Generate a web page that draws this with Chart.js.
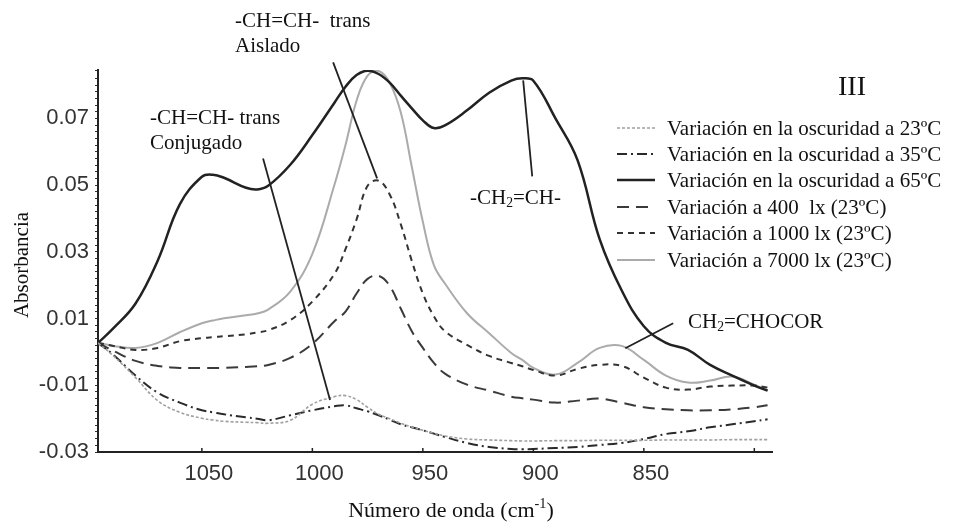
<!DOCTYPE html>
<html>
<head>
<meta charset="utf-8">
<script src="https://cdn.jsdelivr.net/npm/chart.js@4.4.1/dist/chart.umd.min.js"></script>
<style>
  html, body { margin: 0; padding: 0; background: #fff; }
  #wrap { width: 960px; height: 522px; }
</style>
</head>
<body>
<div id="wrap"><canvas id="chart" width="960" height="522"></canvas></div>
<script>
// Wavenumbers (cm-1), left to right
const waveNumbers = [1097, 1090, 1080, 1070, 1060, 1050, 1045, 1040, 1030, 1025,
                     1020, 1010, 1000, 990, 985, 980, 975, 970, 965, 960,
                     955, 950, 945, 940, 930, 920, 910, 905, 900, 890,
                     880, 870, 860, 850, 840, 830, 820, 810, 800, 794];

// Absorbance of each series at those wavenumbers
const dark23 = [0.0027, -0.0012, -0.0077, -0.0146, -0.0181, -0.0199, -0.0204, -0.0208, -0.0211, -0.0212,
                -0.0214, -0.0205, -0.0157, -0.0134, -0.0131, -0.0143, -0.0166, -0.0187, -0.0200, -0.0214,
                -0.0225, -0.0235, -0.0244, -0.0252, -0.0261, -0.0264, -0.0266, -0.0267, -0.0267, -0.0266,
                -0.0266, -0.0265, -0.0265, -0.0265, -0.0264, -0.0264, -0.0264, -0.0263, -0.0263, -0.0263];
const dark35 = [0.0027, -0.0009, -0.0071, -0.0122, -0.0152, -0.0175, -0.0181, -0.0187, -0.0196, -0.0200,
                -0.0205, -0.0190, -0.0175, -0.0163, -0.0160, -0.0169, -0.0178, -0.0190, -0.0203, -0.0217,
                -0.0226, -0.0235, -0.0245, -0.0255, -0.0273, -0.0285, -0.0291, -0.0292, -0.0291, -0.0288,
                -0.0285, -0.0279, -0.0273, -0.0261, -0.0246, -0.0238, -0.0226, -0.0217, -0.0208, -0.0202];
const dark65 = [0.0027, 0.0071, 0.0145, 0.0273, 0.0442, 0.0525, 0.0531, 0.0522, 0.0492, 0.0487,
                0.0498, 0.0561, 0.0650, 0.0747, 0.0795, 0.0830, 0.0843, 0.0833, 0.0807, 0.0768,
                0.0730, 0.0694, 0.0671, 0.0679, 0.0724, 0.0777, 0.0813, 0.0820, 0.0813, 0.0700,
                0.0575, 0.0338, 0.0184, 0.0077, 0.0027, 0.0006, -0.0039, -0.0071, -0.0101, -0.0116];
const lux400 = [0.0027, 0.0003, -0.0027, -0.0042, -0.0048, -0.0048, -0.0048, -0.0048, -0.0045, -0.0043,
                -0.0039, -0.0018, 0.0024, 0.0092, 0.0121, 0.0175, 0.0219, 0.0228, 0.0198, 0.0130,
                0.0062, 0.0012, -0.0033, -0.0065, -0.0098, -0.0116, -0.0134, -0.0139, -0.0143, -0.0152,
                -0.0146, -0.0140, -0.0152, -0.0166, -0.0172, -0.0175, -0.0175, -0.0172, -0.0166, -0.0160];
const lux1000 = [0.0027, 0.0018, 0.0006, 0.0012, 0.0032, 0.0041, 0.0044, 0.0047, 0.0053, 0.0058,
                 0.0065, 0.0095, 0.0151, 0.0234, 0.0308, 0.0397, 0.0498, 0.0513, 0.0472, 0.0383,
                 0.0273, 0.0175, 0.0107, 0.0062, 0.0021, -0.0012, -0.0033, -0.0043, -0.0054, -0.0071,
                 -0.0051, -0.0039, -0.0042, -0.0077, -0.0107, -0.0113, -0.0104, -0.0101, -0.0101, -0.0107];
const lux7000 = [0.0027, 0.0018, 0.0012, 0.0027, 0.0059, 0.0086, 0.0094, 0.0101, 0.0110, 0.0115,
                 0.0127, 0.0181, 0.0294, 0.0501, 0.0620, 0.0753, 0.0828, 0.0842, 0.0807, 0.0718,
                 0.0555, 0.0390, 0.0260, 0.0205, 0.0116, 0.0056, -0.0003, -0.0024, -0.0048, -0.0068,
                 -0.0033, 0.0012, 0.0018, -0.0024, -0.0071, -0.0092, -0.0086, -0.0074, -0.0098, -0.0116];

const seriesLabels = [
  'Variación en la oscuridad a 23ºC',
  'Variación en la oscuridad a 35ºC',
  'Variación en la oscuridad a 65ºC',
  'Variación a 400  lx (23ºC)',
  'Variación a 1000 lx (23ºC)',
  'Variación a 7000 lx (23ºC)'
];
const xTickValues = [1050, 1000, 950, 900, 850, 800];
const xTickLabels = ['1050', '1000', '950', '900', '850', ''];
const yTickLabels = [-0.03, -0.01, 0.01, 0.03, 0.05, 0.07];

const SERIF = "'Liberation Serif', 'Times New Roman', serif";
const SANS = "'Liberation Sans', Arial, sans-serif";

const toPoints = arr => waveNumbers.map((x, i) => ({ x: x, y: arr[i] }));

const styles = [
  { color: '#a0a0a0', width: 1.6, dash: [3, 2] },
  { color: '#2a2a2a', width: 2, dash: [10, 4, 2, 4] },
  { color: '#222222', width: 2.5, dash: [] },
  { color: '#3a3a3a', width: 2, dash: [12, 7] },
  { color: '#333333', width: 2, dash: [6, 5] },
  { color: '#ababab', width: 2, dash: [] }
];
const seriesData = [dark23, dark35, dark65, lux400, lux1000, lux7000];

const datasets = seriesData.map((arr, i) => ({
  label: seriesLabels[i],
  data: toPoints(arr),
  borderColor: styles[i].color,
  borderWidth: styles[i].width,
  borderDash: styles[i].dash,
  pointRadius: 0,
  fill: false,
  showLine: true,
  tension: 0.4
}));

// draw text with sub/superscript pieces, returns width
function drawParts(ctx, parts, x, y, size, measureOnly) {
  let cx = x;
  parts.forEach(p => {
    const small = p.sub || p.sup;
    ctx.font = (small ? size * 0.65 : size) + 'px ' + SERIF;
    const dy = p.sub ? size * 0.28 : (p.sup ? -size * 0.32 : 0);
    if (!measureOnly) ctx.fillText(p.t, cx, y + dy);
    cx += ctx.measureText(p.t).width;
  });
  return cx - x;
}

const annotate = {
  id: 'annotate',
  afterDraw(chart) {
    const ctx = chart.ctx;
    const xs = chart.scales.x, ys = chart.scales.y;
    ctx.save();

    // inward ticks on the x axis
    ctx.strokeStyle = '#222';
    ctx.lineWidth = 1.5;
    xTickValues.forEach(v => {
      const px = xs.getPixelForValue(v);
      ctx.beginPath();
      ctx.moveTo(px, ys.bottom);
      ctx.lineTo(px, ys.bottom - 4);
      ctx.stroke();
    });

    // leader lines (data units)
    const leaders = [
      [990.6, 0.0868, 970.7, 0.0520],
      [1022.3, 0.0580, 992.0, -0.0144],
      [904.6, 0.0814, 900.5, 0.0526],
      [858.4, 0.0011, 836.7, 0.0086]
    ];
    ctx.strokeStyle = '#222';
    ctx.lineWidth = 1.8;
    leaders.forEach(l => {
      ctx.beginPath();
      ctx.moveTo(xs.getPixelForValue(l[0]), ys.getPixelForValue(l[1]));
      ctx.lineTo(xs.getPixelForValue(l[2]), ys.getPixelForValue(l[3]));
      ctx.stroke();
    });

    // annotation text
    ctx.fillStyle = '#111';
    ctx.textBaseline = 'middle';
    ctx.textAlign = 'left';
    const fs = 21;
    drawParts(ctx, [{ t: '-CH=CH-  trans' }], 235, 21, fs);
    drawParts(ctx, [{ t: 'Aislado' }], 235, 46, fs);
    drawParts(ctx, [{ t: '-CH=CH- trans' }], 150, 118, fs);
    drawParts(ctx, [{ t: 'Conjugado' }], 150, 143, fs);
    drawParts(ctx, [{ t: '-CH' }, { t: '2', sub: true }, { t: '=CH-' }], 470, 198, fs);
    drawParts(ctx, [{ t: 'CH' }, { t: '2', sub: true }, { t: '=CHOCOR' }], 688, 322, fs);

    ctx.textAlign = 'center';
    ctx.font = '28px ' + SERIF;
    ctx.fillText('III', 852, 88);

    // legend
    ctx.textAlign = 'left';
    const rowY = [128, 154, 180, 207, 233, 260];
    seriesLabels.forEach((lab, i) => {
      const st = styles[i];
      ctx.strokeStyle = st.color;
      ctx.lineWidth = st.width;
      ctx.setLineDash(st.dash);
      ctx.beginPath();
      ctx.moveTo(617, rowY[i]);
      ctx.lineTo(655, rowY[i]);
      ctx.stroke();
      ctx.setLineDash([]);
      ctx.fillStyle = '#111';
      ctx.font = '21px ' + SERIF;
      ctx.fillText(lab, 667, rowY[i] + 1);
    });

    // axis titles
    const xTitle = [{ t: 'Número de onda (cm' }, { t: '-1', sup: true }, { t: ')' }];
    const w = drawParts(ctx, xTitle, 0, 0, 22, true);
    drawParts(ctx, xTitle, 451 - w / 2, 511, 22);

    ctx.save();
    ctx.translate(22, 265);
    ctx.rotate(-Math.PI / 2);
    ctx.textAlign = 'center';
    ctx.font = '21px ' + SERIF;
    ctx.fillText('Absorbancia', 0, 0);
    ctx.restore();

    ctx.restore();
  }
};

new Chart(document.getElementById('chart'), {
  type: 'scatter',
  data: { datasets: datasets },
  options: {
    responsive: false,
    devicePixelRatio: 1,
    animation: false,
    layout: { padding: { top: 70, right: 188, left: 0, bottom: 0 } },
    plugins: {
      legend: { display: false },
      tooltip: { enabled: false }
    },
    scales: {
      x: {
        type: 'linear',
        reverse: true,
        min: 792,
        max: 1097,
        afterFit: s => { s.height = 70; },
        afterBuildTicks: s => { s.ticks = xTickValues.map(v => ({ value: v })); },
        border: { display: true, color: '#222', width: 2 },
        grid: { display: false },
        ticks: {
          autoSkip: false,
          maxRotation: 0,
          padding: 1,
          labelOffset: 7,
          color: '#333',
          font: { family: SANS, size: 22 },
          callback: v => xTickLabels[xTickValues.indexOf(v)]
        }
      },
      y: {
        min: -0.03,
        max: 0.0845,
        afterFit: s => { s.width = 98; },
        border: { display: true, color: '#222', width: 2 },
        grid: { drawOnChartArea: false, drawTicks: true, tickLength: 3, color: '#333' },
        ticks: {
          stepSize: 0.002,
          maxTicksLimit: 100,
          autoSkip: false,
          padding: 6,
          color: '#333',
          font: { family: SANS, size: 22 },
          callback: v => {
            const m = Math.round(v * 1000);
            const hit = yTickLabels.some(t => Math.round(t * 1000) === m) && Math.abs(v * 1000 - m) < 0.01;
            return hit ? v.toFixed(2) : '';
          }
        }
      }
    }
  },
  plugins: [annotate]
});
</script>
</body>
</html>
